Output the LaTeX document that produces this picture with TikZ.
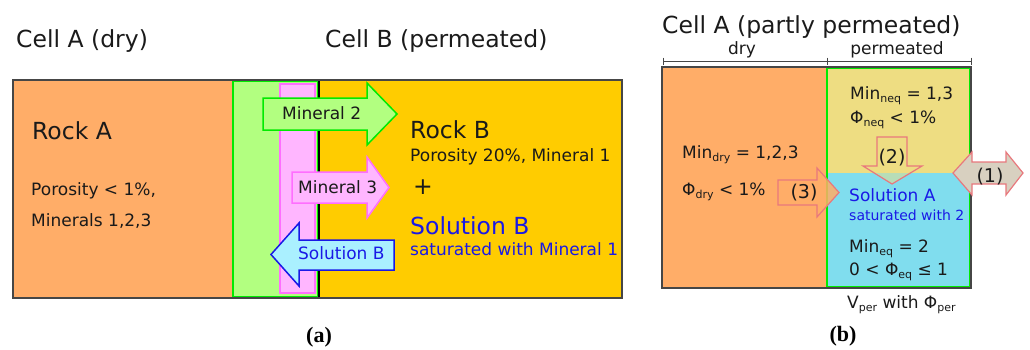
\documentclass[tikz,border=0pt]{standalone}
\usepackage{fontspec}
\newfontfamily\dejavu{DejaVu Sans}
\newfontfamily\tagfont{Liberation Serif}

% colours of the two cells
\definecolor{rockA}{RGB}{255,173,104}
\definecolor{rockB}{RGB}{255,204,0}
\definecolor{minGreen}{RGB}{178,255,128}
\definecolor{lineGreen}{RGB}{0,235,0}
\definecolor{minPink}{RGB}{255,182,255}
\definecolor{linePink}{RGB}{255,110,255}
\definecolor{solCyan}{RGB}{170,240,255}
\definecolor{solBlue}{RGB}{25,25,230}
\definecolor{neqYellow}{RGB}{238,221,130}
\definecolor{eqCyan}{RGB}{128,221,238}
\definecolor{flowRed}{RGB}{232,120,125}
\definecolor{exchGray}{RGB}{216,208,192}
\definecolor{frameGray}{RGB}{70,70,70}
\definecolor{ink}{RGB}{26,26,26}

% lowered small index in the text font
\newcommand{\lowsub}[1]{\raisebox{-3.5pt}{\fontsize{11}{11}\selectfont #1}}

\tikzset{
  txtbig/.style={inner sep=0pt, text=ink, font=\dejavu\fontsize{23.5}{28}\selectfont},
  txtmid/.style={inner sep=0pt, text=ink, font=\dejavu\fontsize{17}{20}\selectfont},
  txtsml/.style={inner sep=0pt, text=ink, font=\dejavu\fontsize{14}{17}\selectfont},
  txtnum/.style={inner sep=0pt, text=ink, font=\dejavu\fontsize{19}{22}\selectfont},
  tagtxt/.style={inner sep=0pt, text=black, font=\tagfont\bfseries\fontsize{22}{26}\selectfont},
  frame/.style={draw=frameGray, line width=1.2pt},
  greenband/.style={fill=minGreen, draw=lineGreen, line width=2pt},
  pinkband/.style={fill=minPink, draw=linePink, line width=1.5pt},
  arrMin2/.style={fill=minGreen, draw=lineGreen, line width=1.5pt, line join=miter},
  arrMin3/.style={fill=minPink, draw=linePink, line width=1.5pt, line join=miter},
  arrSol/.style={fill=solCyan, draw=solBlue, line width=1.5pt, line join=miter},
  arrFlow/.style={draw=flowRed, line width=1.2pt, line join=miter},
  dimline/.style={draw=frameGray, line width=0.9pt},
}

\begin{document}
\begin{tikzpicture}[x=1pt, y=-1pt]
\useasboundingbox (0,0) rectangle (1030,349);

% ---------------- (a) two neighbouring cells ----------------
\fill[rockA] (13,80) rectangle (233,298);
\fill[rockB] (319,80) rectangle (622,298);
\draw[greenband] (233,81) rectangle (318,297);
\draw[pinkband] (280,84) rectangle (315,293);
\draw[black, line width=1.6pt] (319,80) -- (319,298);
\draw[frame] (13,80) rectangle (622,298);

\node[txtbig, anchor=base west] (cellA) at (16,47) {Cell A (dry)};
\node[txtbig, anchor=base west] (cellB) at (325,47) {Cell B (permeated)};

\node[txtbig, anchor=base west] (rockAname) at (32,139) {Rock A};
\node[txtmid, anchor=base west] (rockAporo) at (31,195) {Porosity < 1\%,};
\node[txtmid, anchor=base west] (rockAmin) at (31,226) {Minerals 1,2,3};

\node[txtbig, anchor=base west] (rockBname) at (410,138) {Rock B};
\node[txtmid, anchor=base west] (rockBporo) at (410,161) {Porosity 20\%, Mineral 1};
\node[txtbig] (plus) at (423,187) {+};
\node[txtbig, anchor=base west, text=solBlue] (solBname) at (410,234) {Solution B};
\node[txtmid, anchor=base west, text=solBlue] (solBsat) at (410,255) {saturated with Mineral 1};

% exchange arrows across the interface
\draw[arrMin2] (263,98) -- (367,98) -- (367,83) -- (397,114) -- (367,145) -- (367,130) -- (263,130) -- cycle;
\draw[arrMin3] (292,172) -- (367,172) -- (367,157) -- (389,187.5) -- (367,218) -- (367,203) -- (292,203) -- cycle;
\draw[arrSol] (394,240) -- (299,240) -- (299,223) -- (271,254.5) -- (299,286) -- (299,270) -- (394,270) -- cycle;

\node[txtmid, anchor=base west] (m2) at (282,119) {Mineral 2};
\node[txtmid, anchor=base west] (m3) at (298,193) {Mineral 3};
\node[txtmid, anchor=base west, text=solBlue] (sb) at (298,259) {Solution B};

\node[tagtxt, anchor=base] (taga) at (319,342) {(a)};

% ---------------- (b) one partly permeated cell ----------------
\node[txtbig, anchor=base west] (cellAp) at (662,33) {Cell A (partly permeated)};

% dimension line over the cell
\draw[dimline] (663,61) -- (971,61);
\draw[dimline] (663,57.5) -- (663,64.5);
\draw[dimline] (827,57.5) -- (827,64.5);
\draw[dimline] (971,57.5) -- (971,64.5);
\node[txtmid, anchor=base] (dry) at (742,54) {dry};
\node[txtmid, anchor=base] (perm) at (897,54) {permeated};

\fill[rockA] (662,67) rectangle (827,288);
\fill[neqYellow] (827,67) rectangle (970,173);
\fill[eqCyan] (827,173) rectangle (970,288);
\draw[draw=lineGreen, line width=2pt] (827,68) rectangle (970,287);
\draw[frame] (662,67) rectangle (971,288);

\node[txtmid, anchor=base west] (minneq) at (850,99) {Min\lowsub{neq} = 1,3};
\node[txtmid, anchor=base west] (phineq) at (850,123) {Φ\lowsub{neq} < 1\%};
\node[txtmid, anchor=base west] (mindry) at (682,158) {Min\lowsub{dry} = 1,2,3};
\node[txtmid, anchor=base west] (phidry) at (682,195) {Φ\lowsub{dry} < 1\%};
\node[txtmid, anchor=base west, text=solBlue] (solA) at (849,201) {Solution A};
\node[txtsml, anchor=base west, text=solBlue] (solAsat) at (849,220) {saturated with 2};
\node[txtmid, anchor=base west] (mineq) at (849,252) {Min\lowsub{eq} = 2};
\node[txtmid, anchor=base west] (phieq) at (849,275) {0 < Φ\lowsub{eq} ≤ 1};
\node[txtmid, anchor=base west] (vper) at (847,308) {V\lowsub{per} with Φ\lowsub{per}};

% process arrows (1) exchange, (2) equilibration, (3) permeation
\draw[arrFlow, fill=exchGray] (953,173) -- (972,152) -- (972,162) -- (1006,162) -- (1006,152) -- (1023,173)
  -- (1006,195) -- (1006,184) -- (972,184) -- (972,195) -- cycle;
\draw[arrFlow, fill=neqYellow, fill opacity=0.5] (877,137) -- (907,137) -- (907,166) -- (922,166) -- (892,184)
  -- (863,166) -- (877,166) -- cycle;
\draw[arrFlow, fill=rockA, fill opacity=0.85] (778,180) -- (817,180) -- (817,168) -- (839,192.5) -- (817,217)
  -- (817,205) -- (778,205) -- cycle;

\node[txtnum, anchor=base] (n1) at (990,182) {(1)};
\node[txtnum, anchor=base] (n2) at (892,163) {(2)};
\node[txtnum, anchor=base] (n3) at (804,198) {(3)};

\node[tagtxt, anchor=base] (tagb) at (843,341) {(b)};
\end{tikzpicture}
\end{document}
